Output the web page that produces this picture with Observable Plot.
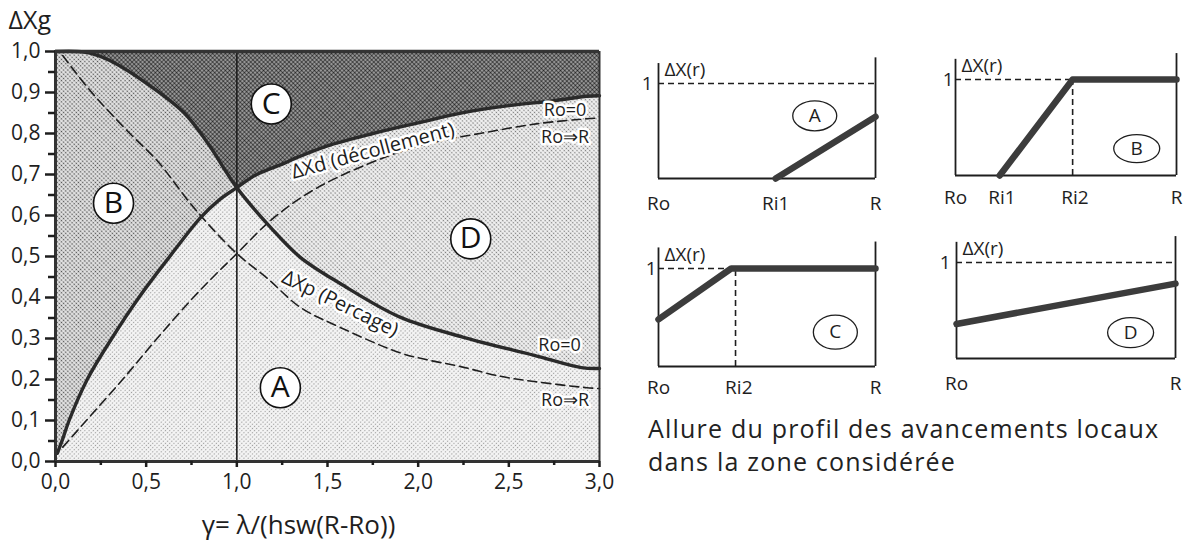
<!DOCTYPE html>
<html><head><meta charset="utf-8">
<script src="https://cdn.jsdelivr.net/npm/d3@7"></script>
<script src="https://cdn.jsdelivr.net/npm/@observablehq/plot@0.6"></script>
<style>
body{margin:0;background:#fff;font-family:"Open Sans",sans-serif;}
#root{position:relative;width:1184px;height:542px;overflow:hidden;background:#fff;}
#caption{position:absolute;left:648px;top:412px;font-size:25px;letter-spacing:1.2px;line-height:33px;color:#222;white-space:nowrap;}
</style></head><body>
<div id="root"><div id="caption">Allure du profil des avancements locaux<br>dans la zone considérée</div></div>
<script>
// ---------- main chart data ----------
// ΔXd (décollement), Ro = 0 (solid)
const gammaD0 = [0.01, 0.04, 0.075, 0.175, 0.31, 0.46, 0.63, 0.80, 0.90, 1.00, 1.11, 1.26, 1.33, 1.50, 1.75, 2.00, 2.25, 2.50, 2.75, 2.93, 3.00];
const dXd0    = [0.02, 0.055, 0.10, 0.20, 0.30, 0.40, 0.50, 0.595, 0.637, 0.668, 0.700, 0.727, 0.741, 0.770, 0.800, 0.826, 0.851, 0.868, 0.880, 0.891, 0.892];
// ΔXd, Ro → R (dashed)
const gammaDR = [0.04, 0.17, 0.37, 0.56, 0.76, 0.88, 1.00, 1.20, 1.445, 1.81, 2.05, 2.34, 2.66, 2.93, 3.00];
const dXdR    = [0.035, 0.10, 0.20, 0.30, 0.40, 0.455, 0.507, 0.593, 0.668, 0.741, 0.775, 0.800, 0.824, 0.836, 0.838];
// ΔXp (perçage), Ro = 0 (solid)
const gammaP0 = [0.00, 0.12, 0.20, 0.30, 0.51, 0.71, 0.84, 1.00, 1.186, 1.35, 1.57, 1.90, 2.25, 2.64, 2.90, 3.00];
const dXp0    = [1.00, 1.00, 0.995, 0.978, 0.92, 0.85, 0.776, 0.668, 0.571, 0.498, 0.434, 0.352, 0.303, 0.259, 0.229, 0.227];
// ΔXp, Ro → R (dashed)
const gammaPR = [0.04, 0.20, 0.41, 0.56, 0.73, 0.84, 1.00, 1.17, 1.35, 1.57, 1.90, 2.05, 2.23, 2.45, 2.64, 2.93, 3.00];
const dXpR    = [0.99, 0.90, 0.80, 0.734, 0.637, 0.58, 0.507, 0.446, 0.376, 0.327, 0.265, 0.248, 0.232, 0.208, 0.195, 0.180, 0.178];

const xTicks = [0, 0.5, 1, 1.5, 2, 2.5, 3];
const xMinor = [0.25, 0.75, 1.25, 1.75, 2.25, 2.75];
const yTicks = [0, 0.1, 0.2, 0.3, 0.4, 0.5, 0.6, 0.7, 0.8, 0.9, 1.0];
const yMinor = [0.05, 0.15, 0.25, 0.35, 0.45, 0.55, 0.65, 0.75, 0.85, 0.95];
const gammaRef = [1.0];

const zones = ["C", "B", "A", "D"];
const zoneGamma = [1.19, 0.32, 1.24, 2.29];
const zoneX = [0.872, 0.63, 0.18, 0.543];

const curveLabels = ["ΔXd (décollement)", "ΔXp (Percage)"];
const endLabels = ["Ro=0", "Ro⇒R", "Ro=0", "Ro⇒R"];
const endGamma = [2.81, 2.81, 2.78, 2.81];
const endX = [0.856, 0.79, 0.283, 0.149];

// ---------- profile panels data ----------
const profileA = {r: [0.54, 1.0], v: [0.0, 0.65]};
const profileB = {r: [0.20, 0.53, 1.0], v: [0.0, 1.0, 1.0]};
const profileC = {r: [0.0, 0.335, 1.0], v: [0.48, 1.0, 1.0]};
const profileD = {r: [0.0, 1.0], v: [0.36, 0.78]};
const ticksA = {label: ["Ro", "Ri1", "R"], r: [0.0, 0.54, 1.0]};
const ticksB = {label: ["Ro", "Ri1", "Ri2", "R"], r: [0.0, 0.21, 0.54, 1.0]};
const ticksC = {label: ["Ro", "Ri2", "R"], r: [0.0, 0.37, 1.0]};
const ticksD = {label: ["Ro", "R"], r: [0.0, 1.0]};
const ri2B = [0.53];
const ri2C = [0.355];

// ---------- build ----------
const pts = (xs, ys) => xs.map((g, i) => ({g, v: ys[i]}));
const d0 = pts(gammaD0, dXd0), dR = pts(gammaDR, dXdR), p0 = pts(gammaP0, dXp0), pR = pts(gammaPR, dXpR);
const lowerEnv = d0.filter(d => d.g <= 1).concat(p0.filter(d => d.g > 1));
const zoneData = zones.map((z, i) => ({z, g: zoneGamma[i], v: zoneX[i]}));
const endData = endLabels.map((t, i) => ({t, g: endGamma[i], v: endX[i]}));
const fmt = d => d.toFixed(1).replace(".", ",");
const ink = "#1e1e1e";
const curve = "catmull-rom";

const main = Plot.plot({
  width: 620, height: 542,
  marginLeft: 55, marginRight: 21, marginTop: 51, marginBottom: 81,
  x: {domain: [0, 3], axis: null},
  y: {domain: [0, 1], axis: null},
  style: {fontFamily: "'Open Sans', sans-serif", color: ink, background: "transparent", overflow: "visible"},
  marks: [
    Plot.frame({fill: "url(#patC)", stroke: null}),
    Plot.areaY(p0, {x: "g", y: "v", fill: "url(#patB)", curve}),
    Plot.areaY(d0, {x: "g", y: "v", fill: "url(#patD)", curve}),
    Plot.areaY(lowerEnv, {x: "g", y: "v", fill: "url(#patA)", curve}),
    Plot.ruleX(gammaRef, {y1: 0, y2: 1, stroke: ink, strokeWidth: 1.6}),
    Plot.line(dR, {x: "g", y: "v", stroke: ink, strokeWidth: 1.6, strokeDasharray: "9,5", curve}),
    Plot.line(pR, {x: "g", y: "v", stroke: ink, strokeWidth: 1.6, strokeDasharray: "9,5", curve}),
    Plot.line(d0, {x: "g", y: "v", stroke: "#2a2a2a", strokeWidth: 3.4, curve}),
    Plot.line(p0, {x: "g", y: "v", stroke: "#2a2a2a", strokeWidth: 3.4, curve}),
    // frame
    Plot.ruleX([0], {stroke: "#333", strokeWidth: 3}),
    Plot.ruleX([3], {stroke: "#333", strokeWidth: 2}),
    Plot.ruleY([0], {stroke: "#333", strokeWidth: 3}),
    Plot.ruleY([1], {stroke: "#333", strokeWidth: 3.5}),
    // axes
    Plot.axisY(yTicks, {anchor: "left", tickSize: 10, tickPadding: 5, strokeWidth: 2.5, tickFormat: fmt, fontSize: 21, label: null, color: ink}),
    Plot.axisY(yMinor, {anchor: "left", tickSize: 7, strokeWidth: 2.5, fill: "none", label: null, stroke: ink}),
    Plot.axisX(xTicks, {anchor: "bottom", tickSize: 6, tickPadding: 7, strokeWidth: 2.5, tickFormat: fmt, fontSize: 21, label: null, color: ink}),
    Plot.axisX(xMinor, {anchor: "bottom", tickSize: 4, strokeWidth: 2.5, fill: "none", label: null, stroke: ink}),
    // annotations
    Plot.text([curveLabels[0]], {x: 1.75, y: 0.758, rotate: -15, fontSize: 20, letterSpacing: "1.2px", fill: ink, stroke: "white", strokeWidth: 5}),
    Plot.text([curveLabels[1]], {x: 1.57, y: 0.385, rotate: 26, fontSize: 20, letterSpacing: "1.2px", fill: ink, stroke: "white", strokeWidth: 5}),
    Plot.text(endData, {x: "g", y: "v", text: "t", fontSize: 18, fill: ink, stroke: "white", strokeWidth: 5}),
    Plot.dot(zoneData, {x: "g", y: "v", r: 20, fill: "white", stroke: "#111", strokeWidth: 1.6}),
    Plot.text(zoneData, {x: "g", y: "v", text: "z", fontSize: 30, fill: "#111"}),
    Plot.text(["ΔXg"], {frameAnchor: "top-left", lineAnchor: "middle", dx: -47, dy: -31, textAnchor: "start", fontSize: 25, letterSpacing: "1px", fill: ink}),
    Plot.text(["γ= λ/(hsw(R-Ro))"], {frameAnchor: "bottom", lineAnchor: "middle", dx: -29, dy: 64, fontSize: 26, letterSpacing: "1.8px", fill: ink})
  ]
});
d3.select(main).insert("defs", ":first-child").html(`
<pattern id="patC" width="3" height="3" patternUnits="userSpaceOnUse" patternTransform="rotate(45)"><rect width="3" height="3" fill="#bcbcbc"/><circle cx="1.5" cy="1.5" r="1.2" fill="#262626"/></pattern>
<pattern id="patB" width="3" height="3" patternUnits="userSpaceOnUse" patternTransform="rotate(45)"><rect width="3" height="3" fill="#e4e4e4"/><circle cx="1.5" cy="1.5" r="0.85" fill="#505050"/></pattern>
<pattern id="patD" width="3" height="3" patternUnits="userSpaceOnUse" patternTransform="rotate(45)"><rect width="3" height="3" fill="#f0f0f0"/><circle cx="1.5" cy="1.5" r="0.8" fill="#7a7a7a"/></pattern>
<pattern id="patA" width="3" height="3" patternUnits="userSpaceOnUse" patternTransform="rotate(45)"><rect width="3" height="3" fill="#f5f5f5"/><circle cx="1.5" cy="1.5" r="0.65" fill="#9a9a9a"/></pattern>`);
main.style.position = "absolute"; main.style.left = "0px"; main.style.top = "0px";
document.getElementById("root").appendChild(main);

// ---------- panels ----------
function ellipse(rx, ry) {
  const k = 0.5523;
  return {draw(c) {
    c.moveTo(rx, 0);
    c.bezierCurveTo(rx, ry * k, rx * k, ry, 0, ry);
    c.bezierCurveTo(-rx * k, ry, -rx, ry * k, -rx, 0);
    c.bezierCurveTo(-rx, -ry * k, -rx * k, -ry, 0, -ry);
    c.bezierCurveTo(rx * k, -ry, rx, -ry * k, rx, 0);
    c.closePath();
  }};
}
function panel(cfg) {
  const prof = cfg.profile.r.map((r, i) => ({r, v: cfg.profile.v[i]}));
  const ticks = cfg.ticks.label.map((l, i) => ({l, r: cfg.ticks.r[i]}));
  const marks = [
    Plot.ruleX([0], {y1: 0, y2: 1.21, stroke: ink, strokeWidth: 1.8}),
    Plot.ruleX([1], {y1: 0, y2: 1.27, stroke: ink, strokeWidth: 1.8}),
    Plot.ruleY([0], {x1: 0, x2: 1, stroke: ink, strokeWidth: 1.8}),
    Plot.ruleY([1], {x1: 0, x2: 1, stroke: ink, strokeWidth: 1.6, strokeDasharray: "6,4"})
  ];
  if (cfg.ri2) marks.push(Plot.ruleX(cfg.ri2, {y1: 0, y2: 1, stroke: ink, strokeWidth: 1.6, strokeDasharray: "6,4"}));
  marks.push(
    Plot.line(prof, {x: "r", y: "v", stroke: "#3c3c3c", strokeWidth: 6.5, strokeLinejoin: "round"}),
    Plot.text(["1"], {x: 0, y: 1, dx: cfg.oneDx, textAnchor: "end", fontSize: 19, fill: ink}),
    Plot.text(["ΔX(r)"], {x: 0, y: 1.14, dx: 6, textAnchor: "start", fontSize: 19, fill: ink}),
    Plot.text(ticks, {x: "r", y: 0, text: "l", dy: cfg.tickDy, fontSize: 19, fill: ink,
      textAnchor: d => d.r === 0 ? cfg.roAnchor : "middle"}),
    Plot.dot([cfg.zone], {x: cfg.zx, y: cfg.zy, symbol: ellipse(cfg.rx, cfg.ry), fill: "white", stroke: ink, strokeWidth: 1.3}),
    Plot.text([cfg.zone], {x: cfg.zx, y: cfg.zy, fontSize: 19, fill: ink})
  );
  const svg = Plot.plot({
    width: cfg.w, height: cfg.h,
    marginLeft: cfg.ml, marginRight: cfg.mr, marginTop: cfg.mt, marginBottom: cfg.mb,
    x: {domain: [0, 1], axis: null},
    y: {domain: [0, 1.3], axis: null},
    style: {fontFamily: "'Open Sans', sans-serif", color: ink, background: "transparent", overflow: "visible"},
    marks
  });
  svg.style.position = "absolute"; svg.style.left = cfg.left + "px"; svg.style.top = cfg.top + "px";
  document.getElementById("root").appendChild(svg);
}
panel({left: 620, top: 40, w: 300, h: 180, ml: 38, mr: 45, mt: 14.5, mb: 42, profile: profileA, ticks: ticksA,
  oneDx: -6, tickDy: 25, roAnchor: "start", zone: "A", zx: 0.72, zy: 0.66, rx: 22, ry: 15});
panel({left: 900, top: 40, w: 284, h: 180, ml: 55, mr: 8, mt: 10.2, mb: 45, profile: profileB, ticks: ticksB, ri2: ri2B,
  oneDx: -2, tickDy: 22, roAnchor: "middle", zone: "B", zx: 0.82, zy: 0.28, rx: 23, ry: 14});
panel({left: 620, top: 220, w: 300, h: 200, ml: 38, mr: 45, mt: 18.6, mb: 54, profile: profileC, ticks: ticksC, ri2: ri2C,
  oneDx: -2, tickDy: 21, roAnchor: "start", zone: "C", zx: 0.815, zy: 0.35, rx: 22, ry: 17});
panel({left: 900, top: 220, w: 284, h: 200, ml: 56, mr: 9, mt: 13.2, mb: 62, profile: profileD, ticks: ticksD,
  oneDx: -6, tickDy: 25, roAnchor: "middle", zone: "D", zx: 0.795, zy: 0.27, rx: 23, ry: 15});
</script>
</body></html>
